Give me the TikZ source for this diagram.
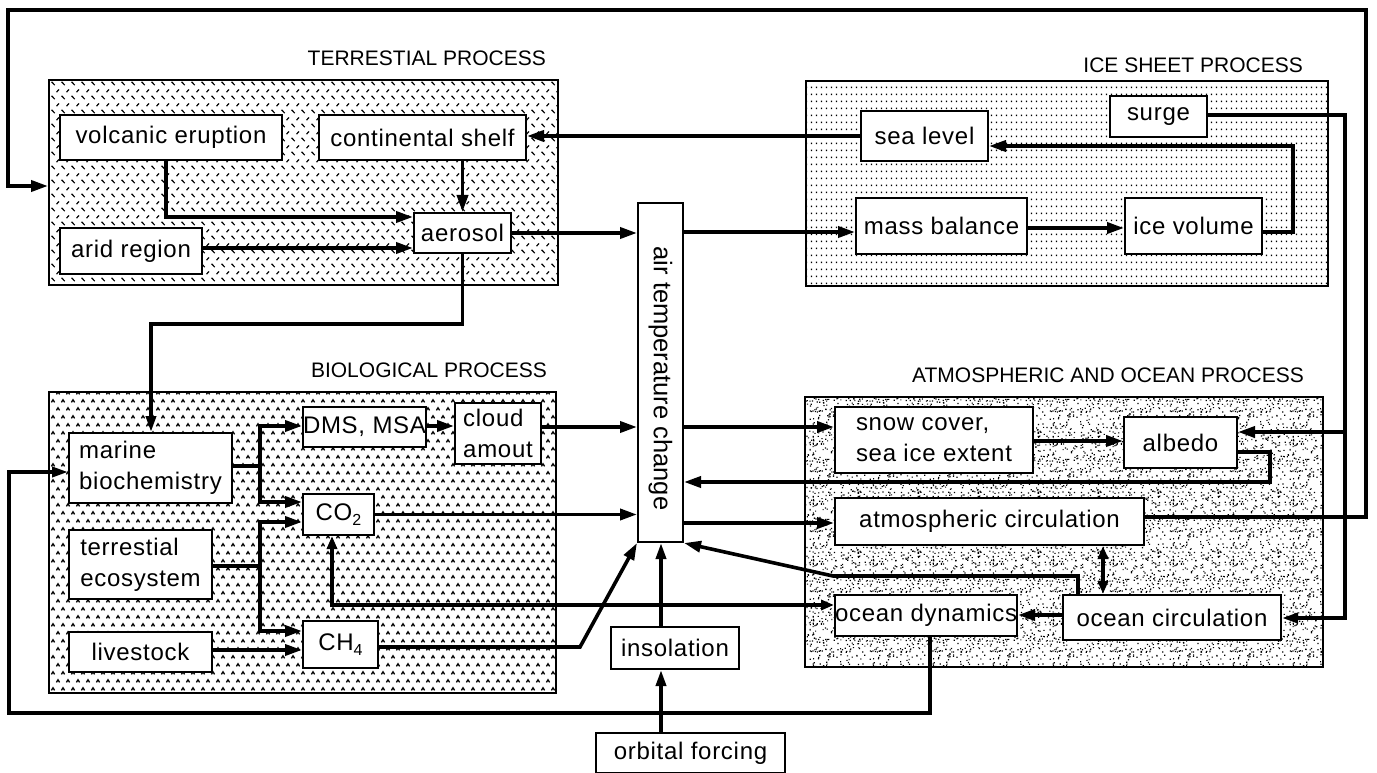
\documentclass[tikz,border=0pt]{standalone}
\usepackage{fontspec}
\setmainfont{Liberation Sans}
\newfontfamily\bfnt{Liberation Sans}[LetterSpace=3]
\usetikzlibrary{arrows.meta,patterns,calc}

\pgfdeclarepatternformonly{tread}{\pgfqpoint{-1pt}{-1pt}}{\pgfqpoint{11pt}{15pt}}{\pgfqpoint{10pt}{14pt}}{%
  \pgfsetlinewidth{1.2pt}%
  \pgfpathmoveto{\pgfqpoint{1.5pt}{5.2pt}}\pgfpathlineto{\pgfqpoint{4.8pt}{1.8pt}}%
  \pgfpathmoveto{\pgfqpoint{6.5pt}{8.8pt}}\pgfpathlineto{\pgfqpoint{9pt}{11.5pt}}%
  \pgfusepath{stroke}}

\pgfdeclarepatternformonly{caret}{\pgfqpoint{-1pt}{-1pt}}{\pgfqpoint{11pt}{17pt}}{\pgfqpoint{10pt}{16pt}}{%
  \pgfsetlinewidth{1.3pt}%
  \pgfpathmoveto{\pgfqpoint{1.4pt}{2.6pt}}\pgfpathlineto{\pgfqpoint{3pt}{5.2pt}}\pgfpathlineto{\pgfqpoint{4.6pt}{2.6pt}}%
  \pgfpathmoveto{\pgfqpoint{6.4pt}{10.6pt}}\pgfpathlineto{\pgfqpoint{8pt}{13.2pt}}\pgfpathlineto{\pgfqpoint{9.6pt}{10.6pt}}%
  \pgfusepath{stroke}}

\pgfdeclarepatternformonly{idots}{\pgfpointorigin}{\pgfqpoint{5pt}{6.5pt}}{\pgfqpoint{5pt}{6.5pt}}{%
  \pgfpathrectangle{\pgfqpoint{1pt}{1pt}}{\pgfqpoint{1.5pt}{1.5pt}}\pgfusepath{fill}}

\pgfdeclarepatternformonly{speckle}{\pgfpointorigin}{\pgfqpoint{60pt}{60pt}}{\pgfqpoint{60pt}{60pt}}{%
  \pgfmathsetseed{11}%
  \foreach \i in {1,...,260}{%
    \pgfmathsetmacro\px{rnd*58.8}%
    \pgfmathsetmacro\py{rnd*58.8}%
    \pgfpathrectangle{\pgfqpoint{\px pt}{\py pt}}{\pgfqpoint{1.2pt}{1.2pt}}%
    \pgfusepath{fill}%
  }}

\newcommand\subsc[1]{\raisebox{-0.35ex}{\fontsize{16}{16}\selectfont #1}}

\begin{document}
\begin{tikzpicture}[x=1pt,y=-1pt,
  box/.style={draw,line width=2pt,fill=white,inner sep=0pt,anchor=north west,
    font=\bfnt\fontsize{24}{31}\selectfont,align=left},
  grp/.style={draw,line width=2pt,inner sep=0pt,anchor=north west},
  ttl/.style={anchor=east,inner sep=0pt,font=\fontsize{21}{21}\selectfont},
  arr/.style={line width=3.6pt,-{Triangle[length=17pt,width=11pt]}},
  tarr/.style={line width=3.6pt,-{Triangle[length=16pt,width=10pt]}},
  darr/.style={line width=3.6pt,{Triangle[length=13pt,width=10pt]}-{Triangle[length=13pt,width=10pt]}},
]
\useasboundingbox (0,0) rectangle (1377,773);

% group panels
\node[grp,pattern=tread,minimum width=509,minimum height=205] (terr) at (48,79) {};
\node[grp,pattern=caret,minimum width=507,minimum height=301] (bio) at (48,391) {};
\node[grp,pattern=idots,minimum width=522,minimum height=205] (ice) at (805,80) {};
\node[grp,pattern=speckle,minimum width=518,minimum height=270] (atm) at (804,396) {};

% titles
\node[ttl] (tterr) at (546,58) {TERRESTIAL PROCESS};
\node[ttl] (tice) at (1303,65) {ICE SHEET PROCESS};
\node[ttl] (tbio) at (547,370) {BIOLOGICAL PROCESS};
\node[ttl] (tatm) at (1304,375) {ATMOSPHERIC AND OCEAN PROCESS};

% terrestrial
\node[box,minimum width=222,minimum height=45] (volc) at (59,114) {volcanic eruption};
\node[box,minimum width=207,minimum height=45] (cont) at (318,114) {continental shelf};
\node[box,minimum width=97,minimum height=40] (aerosol) at (413,212) {aerosol};
\node[box,minimum width=142,minimum height=46] (arid) at (59,227) {arid region};

% biological
\node[box,minimum width=163,minimum height=70] (marine) at (68,432) {marine\\biochemistry};
\node[box,minimum width=116,minimum height=40] (dms) at (302,406) {DMS, MSA};
\node[box,minimum width=86,minimum height=61] (cloud) at (454,402) {cloud\\amout};
\node[box,minimum width=71,minimum height=41] (co2) at (302,493) {CO\subsc{2}};
\node[box,minimum width=143,minimum height=69] (eco) at (68,529) {terrestial\\ecosystem};
\node[box,minimum width=143,minimum height=40] (live) at (68,631) {livestock};
\node[box,minimum width=75,minimum height=47] (ch4) at (302,620) {CH\subsc{4}};

% centre
\node[box,minimum width=45,minimum height=339] (air) at (637,202) {};
\node[rotate=-90,inner sep=0pt,font=\fontsize{25.5}{25.5}\selectfont] (airtxt) at ([yshift=-6pt]air.center) {air temperature change};
\node[box,minimum width=128,minimum height=42] (ins) at (610,626) {insolation};
\node[box,minimum width=189,minimum height=40] (orb) at (595,732) {orbital forcing};

% ice sheet
\node[box,minimum width=127,minimum height=50] (sea) at (860,110) {sea level};
\node[box,minimum width=97,minimum height=41] (surge) at (1109,95) {surge};
\node[box,minimum width=171,minimum height=56] (mass) at (855,197) {mass balance};
\node[box,minimum width=137,minimum height=56] (icev) at (1124,197) {ice volume};

% atmosphere / ocean
\node[box,minimum width=198,minimum height=66] (snow) at (834,406) {snow cover,\\sea ice extent};
\node[box,minimum width=113,minimum height=51] (albedo) at (1123,416) {albedo};
\node[box,minimum width=309,minimum height=47] (atmc) at (834,497) {atmospheric circulation};
\node[box,minimum width=182,minimum height=41] (ocd) at (834,594) {ocean dynamics};
\node[box,minimum width=218,minimum height=45] (occ) at (1062,594) {ocean circulation};

\coordinate (sj) at (1345,432);
\coordinate (mj) at (260,466);
\coordinate (ej) at (260,566);

% terrestrial connectors
\draw[arr] (volc.south -| 166,0) -- (166,217) -- (aerosol.west |- 0,217);
\draw[arr] (arid.east |- 0,248) -- (aerosol.west |- 0,248);
\draw[arr] (cont.south -| aerosol.north) -- (aerosol.north);
\draw[arr] (aerosol.east) -- (air.west |- aerosol.east);
\draw[arr] (sea.west |- 0,136) -- (cont.east |- 0,136);
\draw[tarr] (aerosol.south) -- (aerosol.south |- 0,324) -- (151,324) -- (marine.north -| 151,0);

% ice sheet connectors
\draw[arr] (air.east |- 0,232) -- (mass.west |- 0,232);
\draw[arr] (mass.east |- 0,228) -- (icev.west |- 0,228);
\draw[arr] (icev.east |- 0,232) -- (1293,232) -- (1293,146) -- (sea.east |- 0,146);
\draw[tarr] (surge.east |- 0,115) -- (1345,115) -- (1345,618) -- (occ.east |- 0,618);
\draw[arr] (sj) -- (albedo.east |- sj);

% outer top loop
\draw[arr] (atmc.east |- 0,517) -- (1366,517) -- (1366,10) -- (8,10) -- (8,186) -- (terr.west |- 0,186);

% biological connectors
\draw[arr] (marine.east |- mj) -- (mj) -- (260,426) -- (dms.west |- 0,426);
\draw[arr] (mj) -- (260,502) -- (co2.west |- 0,502);
\draw[arr] (eco.east |- ej) -- (ej) -- (260,522) -- (co2.west |- 0,522);
\draw[arr] (ej) -- (260,631) -- (ch4.west |- 0,631);
\draw[arr] (live.east |- 0,650) -- (ch4.west |- 0,650);
\draw[arr] (dms.east |- 0,426) -- (cloud.west |- 0,426);
\draw[arr] (cloud.east |- 0,427) -- (air.west |- 0,427);
\draw[arr] (co2.east) -- (air.west |- co2.east);
\draw[arr] (ch4.east |- 0,647) -- (580,647) -- (air.south west);

% centre connectors
\draw[tarr] (ins.north -| 661,0) -- (air.south -| 661,0);
\draw[tarr] (orb.north -| 661,0) -- (ins.south -| 661,0);

% atmosphere / ocean connectors
\draw[arr] (air.east |- 0,427) -- (snow.west |- 0,427);
\draw[arr] (snow.east |- 0,441) -- (albedo.west |- 0,441);
\draw[arr] (albedo.east |- 0,452) -- (1270,452) -- (1270,482) -- (air.east |- 0,482);
\draw[arr] (air.east |- 0,523) -- (atmc.west |- 0,523);
\draw[darr] (atmc.south -| 1103,0) -- (occ.north -| 1103,0);
\draw[arr] (occ.north -| 1078,0) -- (1078,576) -- (833,576) -- (air.south east);
\draw[arr] (occ.west |- 0,615) -- (ocd.east |- 0,615);
\draw[darr] (co2.south -| 332,0) -- (332,605) -- (ocd.west |- 0,605);

% outer bottom loop
\draw[tarr] (ocd.south -| 930,0) -- (930,713) -- (9,713) -- (9,472) -- (marine.west |- 0,472);
\end{tikzpicture}
\end{document}
